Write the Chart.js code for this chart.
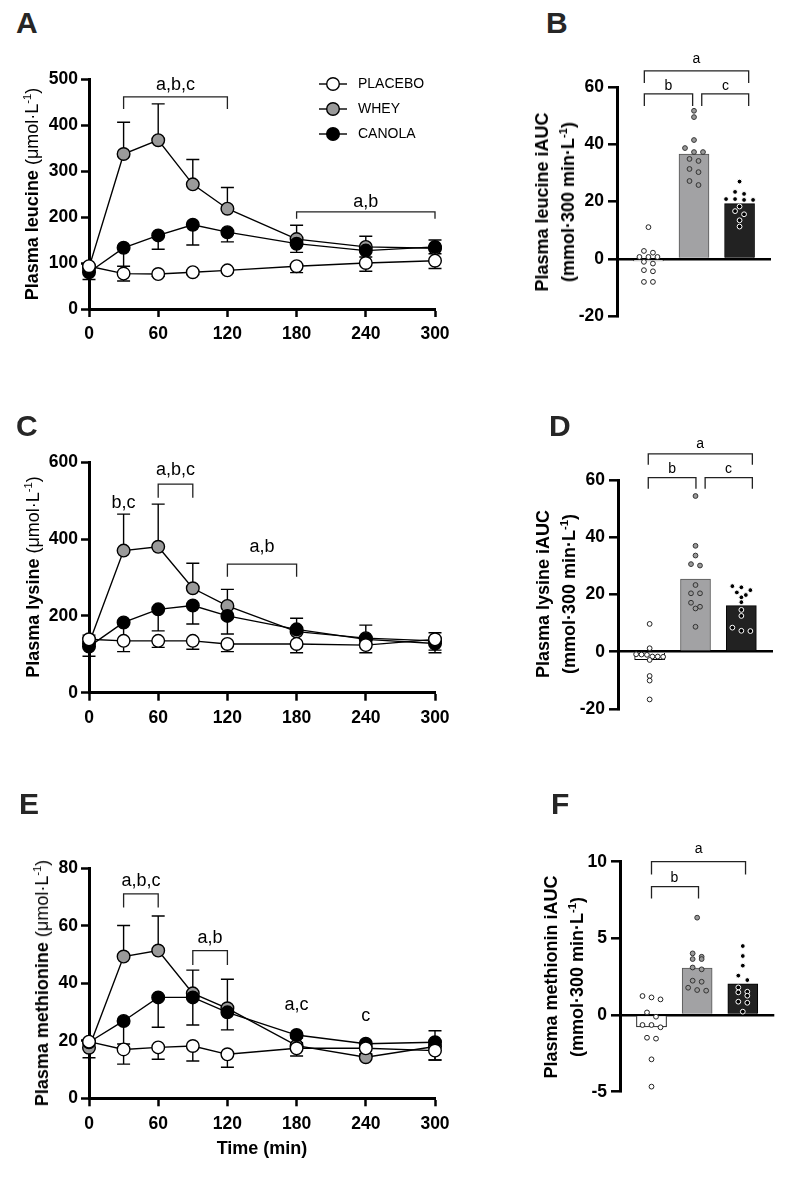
<!DOCTYPE html>
<html><head><meta charset="utf-8">
<script src="https://cdn.jsdelivr.net/npm/chart.js@4.4.1/dist/chart.umd.min.js"></script>
<style>
html,body{margin:0;padding:0;background:#fff;}
body{width:787px;height:1177px;position:relative;overflow:hidden;font-family:"Liberation Sans",Arial,sans-serif;}
canvas{position:absolute;}
.letter{position:absolute;font-weight:bold;font-size:30px;color:#262626;line-height:30px;}
.ytitle{position:absolute;white-space:nowrap;font-size:18px;color:#000;transform:translate(-50%,-50%) rotate(-90deg);text-align:center;line-height:26px;}
.xtitle{position:absolute;white-space:nowrap;font-size:18px;font-weight:bold;color:#000;transform:translate(-50%,-50%);}
sup{font-size:0.62em;line-height:0;vertical-align:0.6em;}
</style></head>
<body>
<canvas id="cA" width="470" height="320" style="left:0;top:40px"></canvas>
<canvas id="cB" width="267" height="290" style="left:520px;top:40px"></canvas>
<canvas id="cC" width="470" height="310" style="left:0;top:440px"></canvas>
<canvas id="cD" width="267" height="300" style="left:520px;top:430px"></canvas>
<canvas id="cE" width="470" height="300" style="left:0;top:840px"></canvas>
<canvas id="cF" width="267" height="290" style="left:520px;top:830px"></canvas>

<div class="letter" style="left:16px;top:8px">A</div>
<div class="letter" style="left:546px;top:8px">B</div>
<div class="letter" style="left:16px;top:411px">C</div>
<div class="letter" style="left:549px;top:411px">D</div>
<div class="letter" style="left:19px;top:789px">E</div>
<div class="letter" style="left:551px;top:789px">F</div>

<div class="ytitle" style="left:32px;top:194px"><b>Plasma leucine</b> (μmol·L<sup>-1</sup>)</div>
<div class="ytitle" style="left:33px;top:577px"><b>Plasma lysine</b> (μmol·L<sup>-1</sup>)</div>
<div class="ytitle" style="left:42px;top:983px"><b>Plasma methionine</b> (μmol·L<sup>-1</sup>)</div>
<div class="ytitle" style="left:555px;top:202px"><b>Plasma leucine iAUC<br>(mmol·300 min·L<sup>-1</sup>)</b></div>
<div class="ytitle" style="left:556px;top:594px"><b>Plasma lysine iAUC<br>(mmol·300 min·L<sup>-1</sup>)</b></div>
<div class="ytitle" style="left:564px;top:977px"><b>Plasma methionin iAUC<br>(mmol·300 min·L<sup>-1</sup>)</b></div>
<div class="xtitle" style="left:262px;top:1148px">Time (min)</div>

<script>
// ================= DATA =================
const TIME = [0, 30, 60, 90, 120, 180, 240, 300];
const TIME_TICKS = [0, 60, 120, 180, 240, 300];
const GROUPS = ['PLACEBO', 'WHEY', 'CANOLA'];

// Panel A – plasma leucine (µmol/L), mean and SD
const leuPlacebo   = [93, 77, 76, 80, 84, 93, 100, 105];
const leuPlaceboSD = [0, 16, 5, 5, 5, 14, 18, 17];
const leuWhey      = [90, 337, 367, 271, 218, 152, 135, 132];
const leuWheySD    = [0, 69, 79, 54, 46, 30, 23, 18];
const leuCanola    = [80, 133, 160, 183, 167, 142, 127, 135];
const leuCanolaSD  = [16, 40, 30, 44, 21, 19, 14, 15];
const leuTicks     = [0, 100, 200, 300, 400, 500];

// Panel C – plasma lysine
const lysPlacebo   = [139, 135, 135, 135, 127, 127, 124, 139];
const lysPlaceboSD = [0, 28, 17, 22, 20, 23, 20, 28];
const lysWhey      = [128, 370, 380, 272, 226, 159, 142, 135];
const lysWheySD    = [22, 95, 111, 65, 43, 35, 34, 21];
const lysCanola    = [120, 183, 217, 227, 200, 165, 139, 128];
const lysCanolaSD  = [25, 45, 56, 48, 47, 10, 10, 24];
const lysTicks     = [0, 200, 400, 600];

// Panel E – plasma methionine
const metPlacebo   = [19.7, 17.0, 17.7, 18.2, 15.3, 17.4, 17.4, 16.6];
const metPlaceboSD = [0, 5.1, 4.1, 5.2, 4.5, 2.7, 2, 3.3];
const metWhey      = [17.6, 49.3, 51.4, 36.5, 31.3, 18.3, 14.3, 18.0];
const metWheySD    = [0, 10.8, 12, 8.1, 10.1, 1, 1, 5.5];
const metCanola    = [19.5, 26.9, 35.1, 35.1, 29.9, 22.0, 19.0, 19.5];
const metCanolaSD  = [5.4, 8, 10.4, 9.6, 6.1, 1, 1, 6.2];
const metTicks     = [0, 20, 40, 60, 80];

// Panel B – leucine iAUC (bar = mean, points = individuals)
const leuAUC        = [-0.7, 36.6, 19.3];
const leuAUCPlacebo = [11.1, 2.8, 2.2, 0.7, 0.7, 0.7, -1.0, -1.6, -3.9, -4.3, -8.0, -8.0];
const leuAUCWhey    = [51.7, 49.5, 41.5, 38.7, 37.3, 37.3, 34.9, 34.2, 31.4, 30.3, 27.2, 25.8];
const leuAUCCanola  = [27.0, 23.4, 22.7, 20.9, 20.9, 20.6, 20.6, 18.3, 16.7, 15.6, 13.5, 11.3];
const leuAUCTicks   = [-20, 0, 20, 40, 60];

// Panel D – lysine iAUC
const lysAUC        = [-2.8, 25.4, 16.1];
const lysAUCPlacebo = [9.7, 1.2, -0.9, -1.0, -1.1, -1.7, -1.7, -1.8, -2.9, -8.5, -10.1, -16.7];
const lysAUCWhey    = [54.4, 37.0, 33.6, 30.6, 30.1, 23.3, 20.4, 20.4, 17.1, 15.7, 15.1, 8.7];
const lysAUCCanola  = [22.9, 22.5, 21.5, 20.7, 19.8, 19.0, 17.3, 14.6, 12.5, 8.4, 7.3, 7.2];
const lysAUCTicks   = [-20, 0, 20, 40, 60];

// Panel F – methionine iAUC
const metAUC        = [-0.77, 3.06, 2.03];
const metAUCPlacebo = [1.24, 1.15, 1.02, 0.17, -0.11, -0.65, -0.65, -0.8, -1.48, -1.54, -2.89, -4.67];
const metAUCWhey    = [6.35, 4.02, 3.8, 3.65, 3.65, 3.1, 2.98, 2.24, 2.17, 1.78, 1.63, 1.59];
const metAUCCanola  = [4.5, 3.85, 3.22, 2.57, 2.28, 1.8, 1.52, 1.48, 1.26, 0.87, 0.8, 0.22];
const metAUCTicks   = [-5, 0, 5, 10];

// Significance annotations (data units)
const leuBrackets = [{x1:30,x2:120,y:461,y2:435},{x1:180,x2:300,y:211,y2:196}];
const leuLabels   = [{x:75,y:486,text:'a,b,c'},{x:240,y:232,text:'a,b'}];
const lysBrackets = [{x1:60,x2:90,y:543,y2:508},{x1:120,x2:180,y:335,y2:302}];
const lysLabels   = [{x:30,y:493,text:'b,c'},{x:75,y:580,text:'a,b,c'},{x:150,y:380,text:'a,b'}];
const metBrackets = [{x1:30,x2:60,y:71.1,y2:66.4},{x1:90,x2:120,y:51.4,y2:46.4}];
const metLabels   = [{x:45,y:75.4,text:'a,b,c'},{x:105,y:55.7,text:'a,b'},{x:180,y:32.5,text:'a,c'},{x:240,y:28.6,text:'c'}];
const leuAUCBrackets = [{x1:-0.09,x2:2.2,y:65.6,y2:61.4},{x1:-0.09,x2:0.97,y:57.6,y2:53.4},{x1:1.17,x2:2.2,y:57.6,y2:53.4}];
const leuAUCLabels   = [{x:1.05,y:69.6,text:'a'},{x:0.44,y:60.3,text:'b'},{x:1.69,y:60.3,text:'c'}];
const lysAUCBrackets = [{x1:-0.03,x2:2.24,y:69.1,y2:65.3},{x1:-0.03,x2:1.01,y:60.8,y2:56.9},{x1:1.21,x2:2.24,y:60.8,y2:56.9}];
const lysAUCLabels   = [{x:1.1,y:72.6,text:'a'},{x:0.49,y:63.8,text:'b'},{x:1.72,y:63.8,text:'c'}];
const metAUCBrackets = [{x1:0,x2:2.06,y:10.0,y2:9.17},{x1:0,x2:1.03,y:8.37,y2:7.6}];
const metAUCLabels   = [{x:1.03,y:10.8,text:'a'},{x:0.5,y:8.9,text:'b'}];

// ================= PLUGINS =================
const FONT = '"Liberation Sans", Arial, sans-serif';

const errorBars = {
  id: 'errorBars',
  beforeDatasetsDraw(chart) {
    const ctx = chart.ctx, ys = chart.scales.y;
    ctx.save();
    ctx.strokeStyle = '#000'; ctx.lineWidth = 1.4;
    chart.data.datasets.forEach((ds, i) => {
      if (!ds.errors) return;
      const meta = chart.getDatasetMeta(i);
      meta.data.forEach((pt, j) => {
        const e = ds.errors[j]; if (!e) return;
        const yy = ys.getPixelForValue(ds.data[j].y + ds.errDir * e);
        ctx.beginPath();
        ctx.moveTo(pt.x, pt.y); ctx.lineTo(pt.x, yy);
        ctx.moveTo(pt.x - 6.5, yy); ctx.lineTo(pt.x + 6.5, yy);
        ctx.stroke();
      });
    });
    ctx.restore();
  }
};

const brackets = {
  id: 'brackets',
  afterDatasetsDraw(chart, args, opts) {
    const ctx = chart.ctx, xs = chart.scales.x, ys = chart.scales.y;
    ctx.save();
    ctx.strokeStyle = '#222'; ctx.lineWidth = 1.3;
    (opts.items || []).forEach(b => {
      const x1 = xs.getPixelForValue(b.x1), x2 = xs.getPixelForValue(b.x2);
      const y = ys.getPixelForValue(b.y), y2 = ys.getPixelForValue(b.y2);
      ctx.beginPath();
      ctx.moveTo(x1, y2); ctx.lineTo(x1, y); ctx.lineTo(x2, y); ctx.lineTo(x2, y2);
      ctx.stroke();
    });
    ctx.fillStyle = '#000';
    ctx.font = (opts.size || 18) + 'px ' + FONT;
    ctx.textAlign = 'center'; ctx.textBaseline = 'middle';
    (opts.labels || []).forEach(l => {
      ctx.fillText(l.text, xs.getPixelForValue(l.x), ys.getPixelForValue(l.y));
    });
    ctx.restore();
  }
};

const swarm = {
  id: 'swarm',
  afterDatasetsUpdate(chart) {
    chart.data.datasets.forEach((ds, i) => {
      if (!ds.swarm) return;
      const els = chart.getDatasetMeta(i).data.slice().sort((a, b) => a.y - b.y);
      const rows = []; let row = [];
      els.forEach(el => {
        if (row.length && el.y - row[0].y > 4.5) { rows.push(row); row = []; }
        row.push(el);
      });
      if (row.length) rows.push(row);
      rows.forEach(r => {
        const n = r.length, sp = n > 1 ? Math.min(9, 27 / (n - 1)) : 0, cx = r[0].x;
        r.forEach((el, k) => { el.x = cx + (k - (n - 1) / 2) * sp; });
      });
    });
  }
};

const lineLegend = {
  id: 'lineLegend',
  afterDraw(chart, args, opts) {
    if (!opts || !opts.show) return;
    const ctx = chart.ctx, a = chart.chartArea;
    ctx.save();
    opts.order.forEach((name, k) => {
      const ds = chart.data.datasets.find(d => d.label === name);
      const y = a.top + opts.top + k * opts.gap, x0 = a.left + opts.left;
      ctx.strokeStyle = '#000'; ctx.lineWidth = ds.borderWidth;
      ctx.beginPath(); ctx.moveTo(x0, y); ctx.lineTo(x0 + 28, y); ctx.stroke();
      ctx.beginPath(); ctx.arc(x0 + 14, y, ds.pointRadius, 0, Math.PI * 2);
      ctx.fillStyle = ds.pointBackgroundColor; ctx.fill();
      ctx.lineWidth = ds.pointBorderWidth; ctx.stroke();
      ctx.fillStyle = '#000'; ctx.font = '14px ' + FONT;
      ctx.textAlign = 'left'; ctx.textBaseline = 'middle';
      ctx.fillText(name, x0 + 39, y + 0.5);
    });
    ctx.restore();
  }
};

Chart.register(errorBars, brackets, swarm, lineLegend);

function axis(ticksArr, kind, size, pad, tickLen) {
  const cfg = {
    type: 'linear',
    min: ticksArr[0], max: ticksArr[ticksArr.length - 1],
    ticks: { stepSize: ticksArr[1] - ticksArr[0], autoSkip: false, maxRotation: 0,
             font: { family: FONT, size: 17.5, weight: 'bold' }, color: '#000', padding: pad },
    grid: { display: true, drawOnChartArea: false, drawTicks: true, tickLength: tickLen,
            tickWidth: 2.5, tickColor: '#000', color: '#000' },
    border: { display: true, color: '#000', width: 3 }
  };
  if (kind === 'y') cfg.afterFit = s => { s.width = size; s.paddingTop = 0; s.paddingBottom = 0; };
  else cfg.afterFit = s => { s.height = size; s.paddingLeft = 0; s.paddingRight = 0; };
  return cfg;
}

function lineChart(id, p, pSD, w, wSD, c, cSD, yTicks, layout, br, lb, legend) {
  const ds = (label, vals, sd, dir, fill, order) => ({
    label, data: TIME.map((t, i) => ({ x: t, y: vals[i] })), errors: sd, errDir: dir,
    borderColor: '#000', borderWidth: 1.4, pointRadius: 6.3, pointHoverRadius: 6.3,
    pointBackgroundColor: fill, pointBorderColor: '#000', pointBorderWidth: 1.4,
    tension: 0, clip: false, order
  });
  new Chart(document.getElementById(id), {
    type: 'line',
    data: { datasets: [
      ds(GROUPS[0], p, pSD, -1, '#ffffff', 0),
      ds(GROUPS[1], w, wSD, 1, '#9a9a9a', 2),
      ds(GROUPS[2], c, cSD, -1, '#000000', 1)
    ] },
    options: {
      responsive: false, animation: false, events: [],
      layout: { padding: { left: 0, top: layout.top, right: layout.right, bottom: 0 } },
      plugins: {
        legend: { display: false }, tooltip: { enabled: false },
        brackets: { items: br, labels: lb, size: 18 },
        lineLegend: { show: legend, order: GROUPS, left: 230, top: 5, gap: 25 }
      },
      scales: {
        x: axis(TIME_TICKS, 'x', layout.xH, 7, 8),
        y: axis(yTicks, 'y', layout.yW, 3, 8)
      }
    }
  });
}

function barChart(id, means, pp, wp, cp, yTicks, layout, br, lb) {
  const pts = (vals, idx, bg, bc, order) => ({
    type: 'scatter', data: vals.map(v => ({ x: idx, y: v })), swarm: true,
    pointRadius: 2.4, pointHoverRadius: 2.4, backgroundColor: bg, borderColor: bc,
    borderWidth: 1, clip: false, order
  });
  const yAx = axis(yTicks, 'y', layout.yW, 4, 9);
  yAx.grid.drawOnChartArea = true;
  yAx.grid.color = ctx => (ctx.tick && ctx.tick.value === 0) ? '#000' : 'rgba(0,0,0,0)';
  yAx.grid.lineWidth = 2.6;
  new Chart(document.getElementById(id), {
    type: 'bar',
    data: { datasets: [
      { type: 'bar', data: means.map((m, i) => ({ x: i, y: m })),
        backgroundColor: ['#ffffff', '#a2a2a4', '#222222'],
        borderColor: ['#000000', '#555555', '#000000'],
        borderWidth: 1, barThickness: 30, order: 10 },
      pts(pp, 0, '#ffffff', '#222222', 2),
      pts(wp, 1, '#9a9a9a', '#333333', 1),
      pts(cp, 2, '#000000', '#ffffff', 0)
    ] },
    options: {
      responsive: false, animation: false, events: [],
      layout: { padding: { left: 0, top: layout.top, right: layout.right, bottom: layout.bottom } },
      plugins: {
        legend: { display: false }, tooltip: { enabled: false },
        brackets: { items: br, labels: lb, size: 14 },
        lineLegend: { show: false }
      },
      scales: {
        x: { type: 'linear', min: -0.69, max: 2.69, offset: false, display: false },
        y: yAx
      }
    }
  });
}

lineChart('cA', leuPlacebo, leuPlaceboSD, leuWhey, leuWheySD, leuCanola, leuCanolaSD, leuTicks,
  { top: 39, right: 35, xH: 51, yW: 89 }, leuBrackets, leuLabels, true);
lineChart('cC', lysPlacebo, lysPlaceboSD, lysWhey, lysWheySD, lysCanola, lysCanolaSD, lysTicks,
  { top: 22.3, right: 35, xH: 57.3, yW: 89 }, lysBrackets, lysLabels, false);
lineChart('cE', metPlacebo, metPlaceboSD, metWhey, metWheySD, metCanola, metCanolaSD, metTicks,
  { top: 28.3, right: 35, xH: 41.7, yW: 89 }, metBrackets, metLabels, false);

barChart('cB', leuAUC, leuAUCPlacebo, leuAUCWhey, leuAUCCanola, leuAUCTicks,
  { top: 47, right: 16, bottom: 13.7, yW: 97 }, leuAUCBrackets, leuAUCLabels);
barChart('cD', lysAUC, lysAUCPlacebo, lysAUCWhey, lysAUCCanola, lysAUCTicks,
  { top: 50, right: 14, bottom: 21.1, yW: 98 }, lysAUCBrackets, lysAUCLabels);
barChart('cF', metAUC, metAUCPlacebo, metAUCWhey, metAUCCanola, metAUCTicks,
  { top: 31.7, right: 12.7, bottom: 28.3, yW: 100 }, metAUCBrackets, metAUCLabels);
</script>
</body></html>
